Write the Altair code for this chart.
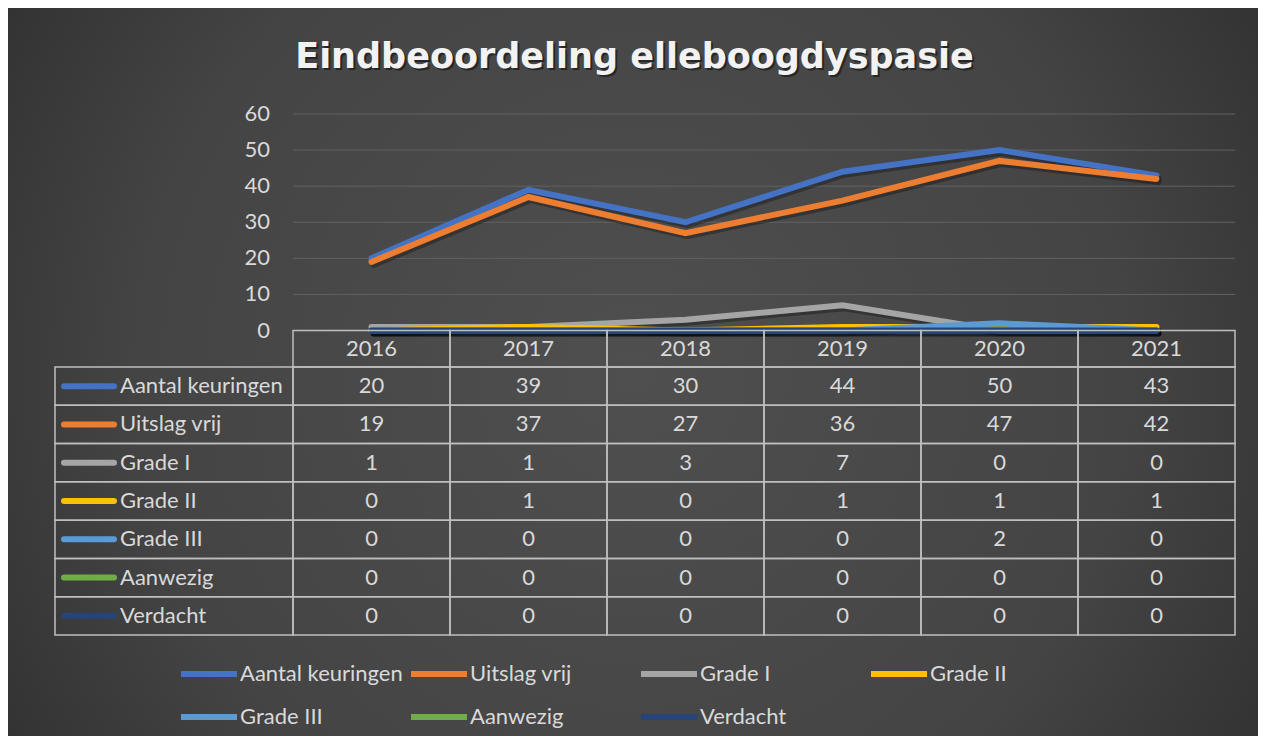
import altair as alt
import pandas as pd

# ---------------- data ----------------
years = ["2016", "2017", "2018", "2019", "2020", "2021"]
series_names = ["Aantal keuringen", "Uitslag vrij", "Grade I", "Grade II",
                "Grade III", "Aanwezig", "Verdacht"]
aantal_keuringen = [20, 39, 30, 44, 50, 43]
uitslag_vrij = [19, 37, 27, 36, 47, 42]
grade_i = [1, 1, 3, 7, 0, 0]
grade_ii = [0, 1, 0, 1, 1, 1]
grade_iii = [0, 0, 0, 0, 2, 0]
aanwezig = [0, 0, 0, 0, 0, 0]
verdacht = [0, 0, 0, 0, 0, 0]
y_ticks = [0, 10, 20, 30, 40, 50, 60]
series_colors = ["#4472C4", "#ED7D31", "#A5A5A5", "#FFC000",
                 "#5B9BD5", "#70AD47", "#264478"]
title_text = "Eindbeoordeling elleboogdyspasie"

all_values = [aantal_keuringen, uitslag_vrij, grade_i, grade_ii,
              grade_iii, aanwezig, verdacht]
rows = []
for s, vals in zip(series_names, all_values):
    for yr, v in zip(years, vals):
        rows.append({"series": s, "year": yr, "value": v})
df = pd.DataFrame(rows)

# ---------------- layout constants ----------------
W, H = 1250, 728
FONT = "Lato"
FS = 22
TXT = "#d9d9d9"
BORDER = "#bfbfbf"

x_scale = alt.Scale(type="band", domain=years, range=[285, 1227],
                    paddingInner=0, paddingOuter=0)
val_scale = alt.Scale(domain=[0, 60], range=[322.5, 106], nice=False)
row_scale = alt.Scale(type="band", domain=series_names, range=[359, 627],
                      paddingInner=0, paddingOuter=0)
color_scale = alt.Scale(domain=series_names, range=series_colors)

legend_def = alt.Legend(
    orient="none", legendX=170, legendY=635, direction="horizontal",
    columns=4, title=None, symbolType="stroke", symbolSize=3136,
    symbolStrokeWidth=6, labelFont=FONT, labelFontSize=FS, labelColor=TXT,
    labelOffset=0, columnPadding=-4, rowPadding=-12, gridAlign="all",
    labelLimit=400,
)
color_enc = alt.Color("series:N", scale=color_scale, legend=legend_def)

X_center = alt.X("year:O", scale=x_scale, bandPosition=0.5, axis=None)
X_band = alt.X("year:O", scale=x_scale, axis=None)
Y_val = alt.Y("value:Q", scale=val_scale, axis=None)
Y_row_center = alt.Y("series:N", scale=row_scale, bandPosition=0.5, axis=None)
Y_row_band = alt.Y("series:N", scale=row_scale, axis=None)

one = pd.DataFrame({"k": [0]})

# ---------------- background ----------------
bg = alt.Chart(one).mark_rect(
    color=alt.RadialGradient(
        gradient="radial",
        stops=[alt.GradientStop(offset=0, color="#4f4f4f"),
               alt.GradientStop(offset=0.55, color="#444444"),
               alt.GradientStop(offset=1, color="#262626")],
        x1=0.5, y1=0.5, r1=0, x2=0.5, y2=0.5, r2=0.72,
    )
).encode(x=alt.value(0), x2=alt.value(W), y=alt.value(0), y2=alt.value(H))

# ---------------- title ----------------
title_df = pd.DataFrame({"t": [title_text]})
title_shadow = alt.Chart(title_df).mark_text(
    font="DejaVu Sans", fontSize=35, fontWeight="bold", color="black",
    opacity=0.45, align="center", baseline="alphabetic", dx=2, dy=2,
).encode(x=alt.value(626.5), y=alt.value(60), text="t:N")
title = alt.Chart(title_df).mark_text(
    font="DejaVu Sans", fontSize=35, fontWeight="bold", color="#f2f2f2",
    align="center", baseline="alphabetic",
).encode(x=alt.value(626.5), y=alt.value(60), text="t:N")

# ---------------- gridlines & y labels ----------------
tick_df = pd.DataFrame({"tick": y_ticks})
grid = alt.Chart(tick_df[tick_df.tick > 0]).mark_rule(
    color="#616161", strokeWidth=1
).encode(x=alt.value(285), x2=alt.value(1227),
         y=alt.Y("tick:Q", scale=val_scale, axis=None))
ylab = alt.Chart(tick_df).mark_text(
    align="right", baseline="middle", font=FONT, fontSize=FS, color=TXT
).encode(x=alt.value(262), y=alt.Y("tick:Q", scale=val_scale, axis=None),
         text="tick:Q")

# ---------------- lines ----------------
line_layers = []
for s in series_names:
    base = alt.Chart(df).transform_filter(alt.datum.series == s)
    shadow = base.mark_line(
        color="black", opacity=0.3, strokeWidth=6, strokeCap="round",
        xOffset=2, yOffset=3,
    ).encode(x=X_center, y=Y_val, detail="series:N")
    ln = base.mark_line(strokeWidth=6, strokeCap="round").encode(
        x=X_center, y=Y_val, color=color_enc
    )
    line_layers += [shadow, ln]

# ---------------- table ----------------
year_df = pd.DataFrame({"year": years})
series_df = pd.DataFrame({"series": series_names})

header_cells = alt.Chart(year_df).mark_rect(
    fill="transparent", stroke=BORDER, strokeWidth=1.5
).encode(x=X_band, y=alt.value(322.5), y2=alt.value(359))
header_text = alt.Chart(year_df).mark_text(
    font=FONT, fontSize=FS, color=TXT, baseline="middle"
).encode(x=X_center, y=alt.value(341), text="year:N")

data_cells = alt.Chart(df).mark_rect(
    fill="transparent", stroke=BORDER, strokeWidth=1.5
).encode(x=X_band, y=Y_row_band)
cell_text = alt.Chart(df).mark_text(
    font=FONT, fontSize=FS, color=TXT, baseline="middle"
).encode(x=X_center, y=Y_row_center, text="value:Q")

label_cells = alt.Chart(series_df).mark_rect(
    fill="transparent", stroke=BORDER, strokeWidth=1.5
).encode(x=alt.value(47), x2=alt.value(285), y=Y_row_band)
swatches = alt.Chart(series_df).mark_rule(
    strokeWidth=6, strokeCap="round"
).encode(x=alt.value(56), x2=alt.value(106), y=Y_row_center, color=color_enc)
row_labels = alt.Chart(series_df).mark_text(
    font=FONT, fontSize=FS, color=TXT, align="left", baseline="middle"
).encode(x=alt.value(112), y=Y_row_center, text="series:N")

chart = alt.layer(
    bg, title_shadow, title, grid, ylab, *line_layers,
    header_cells, header_text, data_cells, cell_text,
    label_cells, swatches, row_labels,
).resolve_scale(y="independent").properties(
    width=W, height=H, padding=0,
    autosize=alt.AutoSizeParams(type="none"),
    background="#3a3a3a",
).configure_view(stroke=None)

chart.save("out.html", embed_options={"renderer": "svg", "actions": False})
